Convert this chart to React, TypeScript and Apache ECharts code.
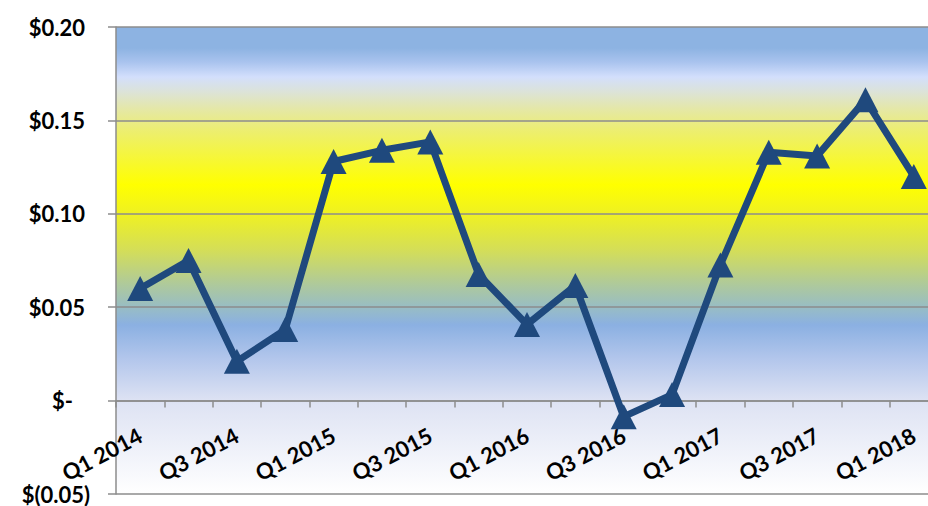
import React, { useEffect, useRef } from "react";
import * as echarts from "echarts";

const categories = [
  "Q1 2014", "Q2 2014", "Q3 2014", "Q4 2014",
  "Q1 2015", "Q2 2015", "Q3 2015", "Q4 2015",
  "Q1 2016", "Q2 2016", "Q3 2016", "Q4 2016",
  "Q1 2017", "Q2 2017", "Q3 2017", "Q4 2017",
  "Q1 2018",
];
const values = [
  0.060, 0.075, 0.021, 0.038,
  0.128, 0.134, 0.1385, 0.0675,
  0.0407, 0.0616, -0.0086, 0.0032,
  0.0726, 0.133, 0.131, 0.161,
  0.120,
];
const yMin = -0.05;
const yMax = 0.2;
const yStep = 0.05;

function fmtY(v: number): string {
  const r = Math.round(v * 100) / 100;
  if (Math.abs(r) < 1e-9) return "{z|$-}";
  if (r < 0) return "{n|$(" + Math.abs(r).toFixed(2) + ")}";
  return "{p|$" + r.toFixed(2) + "}";
}

export default function App() {
  const ref = useRef<HTMLDivElement>(null);
  useEffect(() => {
    if (!ref.current) return;
    const chart = echarts.init(ref.current, null, { renderer: "svg" });
    const font = "Lato, 'Open Sans', sans-serif";
    const gridTop = 27;
    const gridHeight = 467;
    const zeroOffset = (gridHeight * (0 - yMin)) / (yMax - yMin);
    chart.setOption({
      animation: false,
      backgroundColor: "#ffffff",
      grid: {
        left: 116,
        top: gridTop,
        width: 822,
        height: gridHeight,
        containLabel: false,
        outerBoundsMode: "none",
        show: true,
        borderWidth: 0,
        backgroundColor: {
          type: "linear",
          x: 0, y: 0, x2: 0, y2: 1,
          colorStops: [
            { offset: 0, color: "#8DB3E2" },
            { offset: 0.045, color: "#8DB3E2" },
            { offset: 0.075, color: "#A9C3EE" },
            { offset: 0.107, color: "#D3DFFC" },
            { offset: 0.139, color: "#DCE3D8" },
            { offset: 0.178, color: "#E5E8A4" },
            { offset: 0.22, color: "#ECEE72" },
            { offset: 0.338, color: "#FFFF00" },
            { offset: 0.403, color: "#EEF024" },
            { offset: 0.478, color: "#D4DE58" },
            { offset: 0.552, color: "#AEC99C" },
            { offset: 0.6, color: "#98BDC4" },
            { offset: 0.638, color: "#8BB0E2" },
            { offset: 0.713, color: "#B4C7EC" },
            { offset: 0.799, color: "#DDE2F3" },
            { offset: 1, color: "#FFFFFF" },
          ],
        },
      },
      xAxis: {
        type: "category",
        data: categories,
        boundaryGap: true,
        offset: -zeroOffset,
        axisLine: { onZero: false, lineStyle: { color: "#8C8C8C", width: 1.5 } },
        axisTick: { show: true, interval: 0, length: 7, lineStyle: { color: "#8C8C8C", width: 1.5 } },
        axisLabel: {
          interval: 1,
          rotate: 28,
          margin: 33,
          color: "#000",
          fontFamily: font,
          fontWeight: "bold",
          fontSize: 22,
        },
        splitLine: { show: false },
      },
      yAxis: {
        type: "value",
        min: yMin,
        max: yMax,
        interval: yStep,
        axisLine: { show: true, lineStyle: { color: "#8C8C8C", width: 1.5 } },
        axisTick: { show: true, length: 8, lineStyle: { color: "#8C8C8C", width: 1.5 } },
        splitLine: { show: true, lineStyle: { color: "#8C8C8C", width: 1.5 } },
        axisLabel: {
          margin: 26,
          formatter: fmtY,
          rich: {
            p: { fontFamily: font, fontWeight: "bold", fontSize: 22, color: "#000", padding: [0, 5, 0, 0] },
            n: { fontFamily: font, fontWeight: "bold", fontSize: 22, color: "#000", padding: [0, 0, 0, 0] },
            z: { fontFamily: font, fontWeight: "bold", fontSize: 22, color: "#000", padding: [0, 17, 0, 0] },
          },
        },
      },
      series: [
        {
          type: "line",
          data: values,
          symbol: "triangle",
          symbolSize: [26, 25],
          showAllSymbol: true,
          lineStyle: { color: "#1F497D", width: 7 },
          itemStyle: { color: "#1F497D" },
          z: 5,
        },
      ],
    });
    return () => chart.dispose();
  }, []);
  return (
    <div
      ref={ref}
      style={{ position: "fixed", left: 0, top: 0, width: 928, height: 506 }}
    />
  );
}
